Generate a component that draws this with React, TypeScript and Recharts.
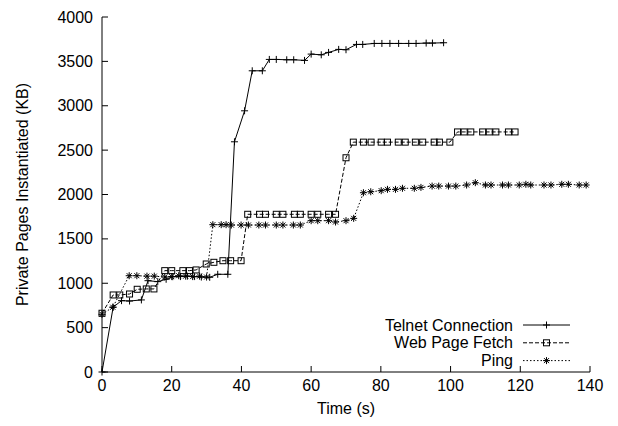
import { LineChart, Line, XAxis, YAxis, Legend } from "recharts";

const xTicks = [0, 20, 40, 60, 80, 100, 120, 140];
const yTicks = [0, 500, 1000, 1500, 2000, 2500, 3000, 3500, 4000];

const telnetTime = [0, 3.2, 5.6, 7.9, 11.3, 13.2, 16, 18.4, 20.3, 22.5, 24.5, 26.5, 28.5, 30.9, 33.2, 36.1, 38, 40.9, 43.1, 46, 48, 50, 53, 55, 58.1, 60, 62.9, 65, 67.9, 70, 73, 74.8, 78.1, 80.3, 82.6, 85.1, 88, 90.1, 93, 94.8, 98];
const telnetKB = [0, 730, 804, 800, 812, 1029, 1018, 1045, 1074, 1075, 1080, 1075, 1070, 1067, 1101, 1101, 2594, 2943, 3394, 3394, 3522, 3522, 3518, 3518, 3511, 3582, 3574, 3601, 3635, 3631, 3691, 3691, 3702, 3702, 3702, 3702, 3702, 3702, 3706, 3706, 3710];

const webTime = [0, 3.2, 5.1, 7.9, 10.1, 12.7, 14.9, 18, 20, 23.2, 25.1, 27, 29.9, 32.1, 34.7, 36.9, 39.9, 41.8, 45.2, 46.9, 50, 51.9, 55.2, 56.9, 60, 61.9, 65, 67, 70, 72.1, 75, 77.2, 80.1, 81.9, 85, 87, 89.9, 92, 95.3, 96.8, 99.8, 102, 103.9, 105.8, 109.2, 111.1, 113, 116.6, 118.5];
const webKB = [662, 868, 868, 879, 932, 936, 936, 1142, 1142, 1142, 1142, 1150, 1217, 1236, 1254, 1254, 1254, 1777, 1777, 1777, 1777, 1777, 1777, 1777, 1777, 1777, 1777, 1777, 2414, 2590, 2590, 2590, 2590, 2590, 2590, 2590, 2590, 2590, 2590, 2590, 2590, 2705, 2705, 2705, 2705, 2705, 2705, 2705, 2705];

const pingTime = [0, 3.1, 7.8, 10, 12.9, 15, 18, 20, 22, 24, 26, 28, 30, 31.8, 34.2, 35.6, 37.1, 39.9, 42, 45, 46.9, 50, 51.9, 54.9, 56.9, 60, 61.9, 65, 67, 70, 72.2, 75, 77.1, 80.1, 81.9, 84.2, 86.2, 89.6, 91.5, 94.7, 96.6, 99.4, 101.5, 104.6, 107.1, 110, 111.6, 114.9, 116.6, 119.7, 121.6, 123, 126.8, 128.8, 131.9, 133.8, 136.9, 138.9];
const pingKB = [650, 730, 1085, 1085, 1080, 1080, 1070, 1075, 1085, 1080, 1075, 1080, 1070, 1660, 1660, 1660, 1656, 1656, 1656, 1656, 1656, 1656, 1656, 1656, 1656, 1705, 1705, 1705, 1690, 1705, 1731, 2020, 2031, 2043, 2058, 2058, 2070, 2070, 2080, 2095, 2095, 2095, 2095, 2107, 2133, 2107, 2107, 2107, 2107, 2107, 2115, 2107, 2107, 2107, 2115, 2115, 2107, 2107];

const seriesNames = ["Telnet Connection", "Web Page Fetch", "Ping"];

const toPoints = (t: number[], kb: number[]) => t.map((time, i) => ({ time, kb: kb[i] }));
const telnetData = toPoints(telnetTime, telnetKB);
const webData = toPoints(webTime, webKB);
const pingData = toPoints(pingTime, pingKB);

const FONT = "'Liberation Sans', Arial, Helvetica, sans-serif";
const FS = 16;
const T = 6;

function Plus({ cx, cy }: { cx: number; cy: number }) {
  return (
    <g stroke="#000" strokeWidth={1}>
      <line x1={cx - 3.5} y1={cy} x2={cx + 3.5} y2={cy} />
      <line x1={cx} y1={cy - 3.5} x2={cx} y2={cy + 3.5} />
    </g>
  );
}

function Square({ cx, cy }: { cx: number; cy: number }) {
  return <rect x={cx - 3} y={cy - 3} width={6} height={6} fill="none" stroke="#000" strokeWidth={1} />;
}

function Star({ cx, cy }: { cx: number; cy: number }) {
  return (
    <g stroke="#000" strokeWidth={1}>
      <line x1={cx - 3.5} y1={cy} x2={cx + 3.5} y2={cy} />
      <line x1={cx} y1={cy - 3.5} x2={cx} y2={cy + 3.5} />
      <line x1={cx - 2.5} y1={cy - 2.5} x2={cx + 2.5} y2={cy + 2.5} />
      <line x1={cx - 2.5} y1={cy + 2.5} x2={cx + 2.5} y2={cy - 2.5} />
    </g>
  );
}

const markers = [Plus, Square, Star];
const dashes = [undefined, "4 2", "1.5 2"];

function BottomTick({ x, y, payload }: any) {
  return (
    <g>
      <line x1={x} y1={y} x2={x} y2={y - T} stroke="#000" />
      <text x={x} y={y + 19} textAnchor="middle" fontSize={FS} fontFamily={FONT} fill="#000">
        {payload.value}
      </text>
    </g>
  );
}

function TopTick({ x, y }: any) {
  return <line x1={x} y1={y} x2={x} y2={y + T} stroke="#000" />;
}

function LeftTick({ x, y, payload }: any) {
  return (
    <g>
      <line x1={x} y1={y} x2={x + T} y2={y} stroke="#000" />
      <text x={x - 9} y={y + 5.5} textAnchor="end" fontSize={FS} fontFamily={FONT} fill="#000">
        {payload.value}
      </text>
    </g>
  );
}

function RightTick({ x, y }: any) {
  return <line x1={x} y1={y} x2={x - T} y2={y} stroke="#000" />;
}

function LegendBox() {
  return (
    <svg width={240} height={56}>
      {seriesNames.map((name, i) => {
        const cy = 11 + i * 17.8;
        const M = markers[i];
        return (
          <g key={name}>
            <text x={173} y={cy + 5.5} textAnchor="end" fontSize={FS} fontFamily={FONT} fill="#000">
              {name}
            </text>
            <line x1={183} y1={cy} x2={230} y2={cy} stroke="#000" strokeDasharray={dashes[i]} />
            <M cx={206.5} cy={cy} />
          </g>
        );
      })}
    </svg>
  );
}

export default function App() {
  const series = [telnetData, webData, pingData];
  return (
    <div style={{ position: "absolute", left: 0, top: 0, background: "#fff" }}>
      <LineChart width={618} height={426} margin={{ top: 17, right: 28, bottom: 12, left: 0 }}>
        <XAxis
          dataKey="time"
          type="number"
          domain={[0, 140]}
          ticks={xTicks}
          tickSize={0}
          tickMargin={0}
          height={42}
          axisLine={{ stroke: "#000" }}
          tick={<BottomTick />}
          label={{ value: "Time (s)", position: "insideBottom", offset: 0, fontSize: FS, fontFamily: FONT, fill: "#000" }}
        />
        <XAxis
          xAxisId="top"
          orientation="top"
          type="number"
          domain={[0, 140]}
          ticks={xTicks}
          tickSize={0}
          tickMargin={0}
          height={0}
          axisLine={{ stroke: "#000" }}
          tick={<TopTick />}
        />
        <YAxis
          type="number"
          domain={[0, 4000]}
          ticks={yTicks}
          tickSize={0}
          tickMargin={0}
          width={102}
          axisLine={{ stroke: "#000" }}
          tick={<LeftTick />}
          label={{
            value: "Private Pages Instantiated (KB)",
            angle: -90,
            position: "insideLeft",
            offset: 22,
            style: { textAnchor: "middle" },
            fontSize: FS,
            fontFamily: FONT,
            fill: "#000",
          }}
        />
        <YAxis
          yAxisId="right"
          orientation="right"
          type="number"
          domain={[0, 4000]}
          ticks={yTicks}
          tickSize={0}
          tickMargin={0}
          width={0}
          axisLine={{ stroke: "#000" }}
          tick={<RightTick />}
        />
        {series.map((data, i) => {
          const M = markers[i];
          return (
            <Line
              key={seriesNames[i]}
              name={seriesNames[i]}
              data={data}
              dataKey="kb"
              type="linear"
              stroke="#000"
              strokeWidth={1}
              strokeDasharray={dashes[i]}
              isAnimationActive={false}
              dot={(p: any) => <M key={`${i}-${p.index}`} cx={p.cx} cy={p.cy} />}
              activeDot={false}
            />
          );
        })}
        <Legend
          layout="vertical"
          align="center"
          verticalAlign="middle"
          content={<LegendBox />}
          wrapperStyle={{ left: 340, top: 314, width: 240, height: 56 }}
        />
      </LineChart>
    </div>
  );
}
